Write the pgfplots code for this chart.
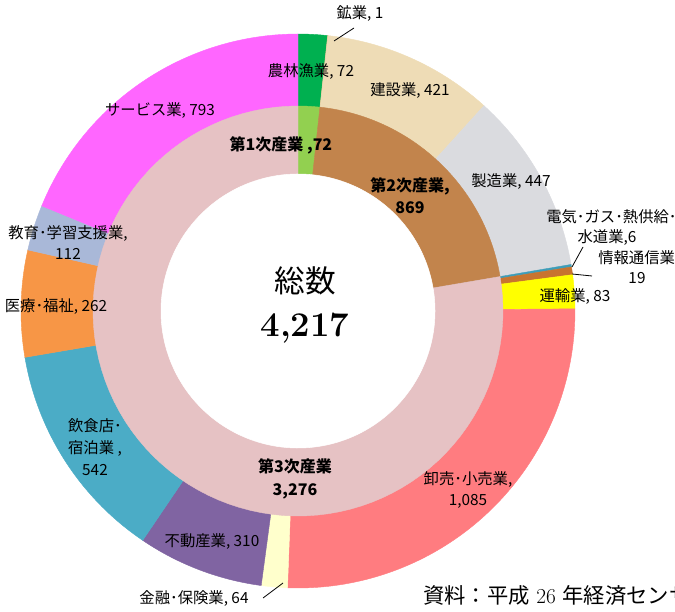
\documentclass[border=0pt]{standalone}
\usepackage{pgfplots}
\pgfplotsset{compat=1.18}
\usepackage{fontspec}
\newfontfamily\jp{Noto Sans CJK JP}
\definecolor{cA}{HTML}{00B050}
\definecolor{cB}{HTML}{D9C08C}
\definecolor{cC}{HTML}{EEDCB6}
\definecolor{cD}{HTML}{DADBDF}
\definecolor{cE}{HTML}{3E9DB8}
\definecolor{cF}{HTML}{C8742F}
\definecolor{cG}{HTML}{FFFF00}
\definecolor{cH}{HTML}{FF7C80}
\definecolor{cI}{HTML}{FFFFCC}
\definecolor{cJ}{HTML}{8064A2}
\definecolor{cK}{HTML}{4BACC6}
\definecolor{cL}{HTML}{F79646}
\definecolor{cM}{HTML}{A9B8D8}
\definecolor{cN}{HTML}{FF66FF}
\definecolor{iA}{HTML}{92D050}
\definecolor{iB}{HTML}{C2844C}
\definecolor{iC}{HTML}{E6C2C4}
\def\Tot{4217}
\def\CX{298}
\def\CY{300}
\newcommand\ring[2]{%
  \gdef\cum{0}%
  \foreach \v/\c in {#2} {%
    \pgfmathsetmacro\aA{90-\cum/\Tot*360}%
    \pgfmathsetmacro\cumB{\cum+\v}%
    \pgfmathsetmacro\aB{90-\cumB/\Tot*360}%
    \xdef\cum{\cumB}%
    \edef\cmd{\noexpand\addplot[fill=\c, draw=\c, line width=0.3pt, domain=\aB:\aA, samples=90] ({\CX+#1*cos(x)},{\CY+#1*sin(x)}) -- (axis cs:\CX,\CY) -- cycle;}%
    \cmd
  }%
}
\begin{document}
\begin{tikzpicture}
\begin{axis}[at={(0,0)}, anchor=south west, width=506.25pt, height=458.25pt, scale only axis,
  xmin=0, xmax=675, ymin=0, ymax=611, hide axis, clip=false]
% outer ring: industries (values)
\ring{277}{72/cA, 1/cB, 421/cC, 447/cD, 6/cE, 19/cF, 83/cG, 1085/cH, 64/cI, 310/cJ, 542/cK, 262/cL, 112/cM, 793/cN}
% inner ring: sectors
\ring{205}{72/iA, 869/iB, 3276/iC}
\addplot[fill=white, draw=white, domain=0:360, samples=180] ({\CX+137*cos(x)},{\CY+137*sin(x)}) -- cycle;
% leader lines
\draw[black, line width=0.6pt] (axis cs:334,570) -- (axis cs:354,583);
\draw[black, line width=0.6pt] (axis cs:572,344) -- (axis cs:583,364);
\draw[black, line width=0.6pt] (axis cs:572,337) -- (axis cs:592,335);
\draw[black, line width=0.6pt] (axis cs:263,13) -- (axis cs:283,28);
% labels
\begin{scope}[every node/.style={font=\jp\fontsize{11.5}{15.75}\selectfont, align=center, inner sep=0pt}]
\node at (axis cs:360,597) {鉱業, 1};
\node at (axis cs:311,539) {農林漁業, 72};
\node at (axis cs:410,520) {建設業, 421};
\node at (axis cs:511,429) {製造業, 447};
\node[anchor=west] at (axis cs:546,394) {電気･ガス･熱供給･};
\node at (axis cs:607,373) {水道業,6};
\node[anchor=west] at (axis cs:598,353) {情報通信業};
\node at (axis cs:637,333) {19};
\node at (axis cs:575,314) {運輸業, 83};
\node at (axis cs:468,121.5) {卸売･小売業,\\1,085};
\node at (axis cs:194,12) {金融･保険業, 64};
\node at (axis cs:212,69) {不動産業, 310};
\node[font=\jp\fontsize{11.5}{16.5}\selectfont] at (axis cs:95,164) {飲食店･\\宿泊業 ,\\542};
\node at (axis cs:56,304) {医療･福祉, 262};
\node at (axis cs:68,368.5) {教育･学習支援業,\\112};
\node at (axis cs:160,500) {サービス業, 793};
\node[font=\jp\bfseries\fontsize{12}{16.5}\selectfont] at (axis cs:281,466) {第1次産業 ,72};
\node[font=\jp\bfseries\fontsize{12}{16.5}\selectfont] at (axis cs:410,415) {第2次産業,\\869};
\node[font=\jp\bfseries\fontsize{12}{17.25}\selectfont] at (axis cs:295,132.5) {第3次産業\\3,276};
\end{scope}
\node[font=\jp\fontsize{23}{26}\selectfont] at (axis cs:305,330) {総数};
\node[font=\bfseries\fontsize{26}{30}\selectfont] at (axis cs:305,283) {4,217};
\node[anchor=west, font=\fontsize{16}{18}\selectfont, inner sep=0pt] at (axis cs:423,16) {{\jp 資料：平成} 26 {\jp 年経済センサス}};
\end{axis}
\pgfresetboundingbox
\path[use as bounding box] (0,0) rectangle (506.25pt,458.25pt);
\end{tikzpicture}
\end{document}
